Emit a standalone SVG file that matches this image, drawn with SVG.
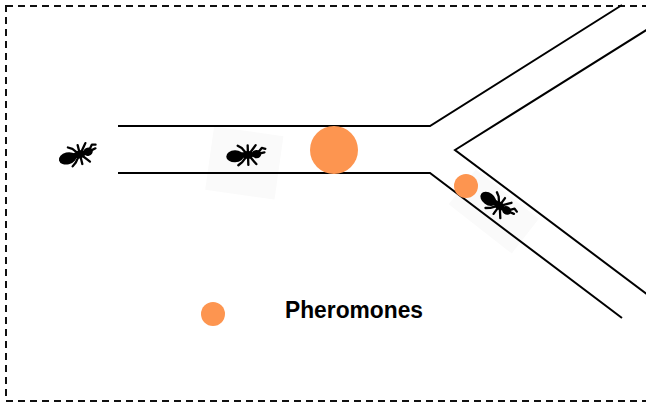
<svg xmlns="http://www.w3.org/2000/svg" xmlns:xlink="http://www.w3.org/1999/xlink" width="646" height="407" viewBox="0 0 646 407">
  <style>
    .frame { fill: none; stroke: #111; stroke-width: 2; stroke-dasharray: 7 5; }
    .path { fill: none; stroke: #000; stroke-width: 2; stroke-linejoin: miter; }
    .pher { fill: #fd9550; }
    .leg { fill: none; stroke: #000; stroke-width: 2.3; stroke-linecap: round; stroke-linejoin: round; }
    .label { font-family: "Liberation Sans", Arial, sans-serif; font-weight: bold; font-size: 23px; fill: #000; }
    .halo { fill: #fafafa; }
  </style>
  <defs>
    <!-- ant silhouette, head pointing along +x, centred on the thorax -->
    <g id="ant">
      <ellipse cx="-10" cy="1" rx="8.8" ry="6" fill="#000"/>
      <ellipse cx="-2" cy="0" rx="3" ry="2.8" fill="#000"/>
      <ellipse cx="3" cy="0" rx="5.6" ry="4" fill="#000"/>
      <ellipse cx="11.5" cy="-0.5" rx="4.8" ry="4.1" fill="#000"/>
      <path class="leg" d="M1,-2 L-3,-7 L-7,-9.5 M3,-2 L3,-9.5 M5,-2 L9,-7 L11,-9.5 M1,2 L-3,7 L-7,10 M3,2 L3,10 M5,2 L9,7 L11,9.5 M14,-3 L17,-6.5 L20.5,-5.5 M15,-1 L19.5,-2"/>
    </g>
  </defs>

  <!-- faint backdrops behind two of the ants -->
  <rect class="halo" x="-35" y="-27" width="70" height="64" transform="translate(245,158) rotate(8)"/>
  <rect class="halo" x="-40" y="-20" width="80" height="44" transform="translate(495,210) rotate(38)"/>

  <!-- dashed boundary -->
  <rect class="frame" x="6" y="6" width="652" height="395"/>

  <!-- trail with a fork -->
  <g id="trail">
    <polyline class="path" points="118,126 430,126 622,5"/>
    <polyline class="path" points="118,173 430,173 622,318"/>
    <polyline class="path" points="648,29 455,150 648,295"/>
  </g>

  <!-- pheromone deposits -->
  <g id="pheromone-main"><circle class="pher" cx="334" cy="150" r="24"/></g>
  <g id="pheromone-branch"><circle class="pher" cx="466" cy="186" r="12"/></g>

  <!-- ants -->
  <g id="ant-1">
    <use xlink:href="#ant" transform="translate(77,155) rotate(-14)"/>
  </g>
  <g id="ant-2">
    <use xlink:href="#ant" transform="translate(245,155) rotate(-2)"/>
  </g>
  <g id="ant-3">
    <use xlink:href="#ant" transform="translate(497,204) rotate(36)"/>
  </g>

  <!-- legend -->
  <g id="legend">
    <circle class="pher" cx="213" cy="314" r="12"/>
    <text class="label" x="285" y="318" textLength="138" lengthAdjust="spacingAndGlyphs">Pheromones</text>
  </g>
</svg>
